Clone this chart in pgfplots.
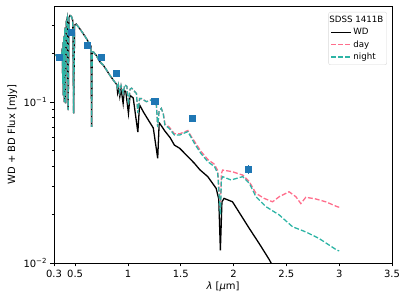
\documentclass[border=0pt]{standalone}
\usepackage{pgfplots}
\pgfplotsset{compat=1.18}
\usepackage{fontspec}
\setmainfont{DejaVu Sans}
\definecolor{dayc}{RGB}{255,110,140}
\definecolor{nightc}{RGB}{45,180,165}
\definecolor{ptc}{RGB}{31,119,180}

\begin{document}
\begin{tikzpicture}
\useasboundingbox (-54bp,-39bp) rectangle (353bp,263bp);
\begin{axis}[
 scale only axis, width=338bp, height=257bp,
 xmin=0.3, xmax=3.5, ymode=log, ymin=0.01, ymax=0.395,
 xtick={0.3,0.5,1,1.5,2,2.5,3,3.5},
 xticklabels={0.3,0.5,1,1.5,2,2.5,3,3.5},
 ytick={0.01,0.1}, yticklabels={10\textsuperscript{−2},10\textsuperscript{−1}},
 minor ytick={0.02,0.03,0.04,0.05,0.06,0.07,0.08,0.09,0.2,0.3},
 tick align=outside, tick pos=left,
 axis line style={line width=0.7bp},
 major tick length=3.5bp, minor tick length=2bp,
 every tick/.style={black, line width=0.7bp},
 minor tick style={line width=0.55bp},
 tick label style={font=\fontsize{10}{12}\selectfont},
 xticklabel style={yshift=-0.5bp},
 label style={font=\fontsize{11.3}{13}\selectfont},
 xlabel={\textit{λ} [\textit{μ}m]},
 ylabel={WD + BD Flux [mJy]},
 every axis x label/.style={at={(axis description cs:0.5,-0.0934)}, anchor=center},
 every axis y label/.style={at={(axis description cs:-0.123,0.5)}, rotate=90, anchor=center},
 legend cell align=left,
 legend image code/.code={\draw[#1] (0bp,0bp) -- (20bp,0bp);},
 legend style={at={(1,1)}, anchor=north east, xshift=-5bp, yshift=-6bp,
   draw=black!15, rounded corners=2bp, fill=white,
   font=\fontsize{8.7}{10}\selectfont, inner xsep=2bp, inner ysep=1.5bp, row sep=0bp,
   nodes={text height=7bp, text depth=2.2bp, inner xsep=1.5bp, inner ysep=1.6bp},
   /tikz/every even column/.append style={column sep=1bp}},
]
\addlegendimage{empty legend}
\addlegendentry{\hspace{-24bp}SDSS 1411B}

% WD model
\addplot[black, line width=1.3bp, mark=none] coordinates {
(0.31,0.196) (0.33,0.193) (0.35,0.191) (0.365,0.19) (0.372,0.195) (0.378,0.215)
(0.3835,0.13) (0.386,0.235) (0.3889,0.11) (0.392,0.255) (0.397,0.10) (0.401,0.27)
(0.405,0.29) (0.4102,0.098) (0.416,0.315) (0.426,0.335) (0.4341,0.089) (0.442,0.335)
(0.452,0.345) (0.465,0.34) (0.478,0.32) (0.4861,0.085) (0.495,0.30) (0.51,0.305)
(0.55,0.282) (0.60,0.252) (0.64,0.228) (0.65,0.222) (0.6563,0.070) (0.662,0.205)
(0.675,0.204) (0.70,0.195) (0.734,0.178) (0.765,0.170) (0.80,0.157) (0.828,0.147)
(0.875,0.133) (0.895,0.128) (0.9017,0.115) (0.91,0.124) (0.9229,0.108) (0.935,0.121)
(0.9546,0.098) (0.965,0.118) (0.98,0.116) (1.0049,0.085) (1.02,0.110) (1.05,0.106)
(1.0938,0.065) (1.11,0.096) (1.15,0.086) (1.20,0.076) (1.24,0.069) (1.2818,0.0447)
(1.295,0.072) (1.30,0.0738) (1.35,0.066) (1.40,0.060) (1.44,0.054) (1.49,0.0516)
(1.63,0.0416) (1.68,0.038) (1.756,0.0344) (1.835,0.0291) (1.86,0.025) (1.8751,0.012)
(1.89,0.024) (1.91,0.0252) (1.99,0.024) (2.149,0.0164) (2.243,0.0132) (2.338,0.0105)
(2.40,0.0088)
};
\addlegendentry{WD}

% day
\addplot[dayc, line width=1.3bp, mark=none, dash pattern=on 4.9bp off 2.1bp] coordinates {
(0.31,0.196) (0.33,0.193) (0.35,0.191) (0.365,0.19) (0.372,0.195) (0.378,0.215)
(0.3835,0.13) (0.386,0.235) (0.3889,0.11) (0.392,0.255) (0.397,0.10) (0.401,0.27)
(0.405,0.29) (0.4102,0.098) (0.416,0.315) (0.426,0.335) (0.4341,0.089) (0.442,0.335)
(0.452,0.345) (0.465,0.34) (0.478,0.32) (0.4861,0.085) (0.495,0.30) (0.51,0.305)
(0.55,0.282) (0.60,0.252) (0.64,0.228) (0.65,0.222) (0.6563,0.070) (0.662,0.205)
(0.675,0.204) (0.70,0.195) (0.734,0.178) (0.765,0.170) (0.80,0.157) (0.828,0.147)
(0.875,0.133) (0.895,0.130) (0.9017,0.12) (0.91,0.128) (0.9229,0.115) (0.935,0.127)
(0.9546,0.113) (0.97,0.128) (0.99,0.125) (1.0049,0.096) (1.02,0.12) (1.035,0.122)
(1.06,0.117) (1.08,0.113) (1.0938,0.0855) (1.11,0.105) (1.13,0.105) (1.175,0.1005)
(1.22,0.103) (1.255,0.1005) (1.27,0.095) (1.2818,0.070) (1.295,0.088) (1.316,0.0913)
(1.335,0.085) (1.35,0.073) (1.39,0.070) (1.44,0.0635) (1.49,0.0635) (1.53,0.065)
(1.567,0.0665) (1.60,0.061) (1.63,0.057) (1.69,0.0495) (1.756,0.044) (1.82,0.041)
(1.85,0.0375) (1.8751,0.022) (1.885,0.036) (1.897,0.0378) (1.99,0.0369) (2.055,0.0357)
(2.086,0.0352) (2.149,0.032) (2.212,0.0271) (2.29,0.0252) (2.369,0.024) (2.432,0.0258)
(2.526,0.0277) (2.59,0.0258) (2.637,0.0234) (2.684,0.0256) (2.778,0.025) (2.873,0.024)
(2.98,0.0224) (3.0,0.0222)
};
\addlegendentry{day}

% night
\addplot[nightc, line width=1.3bp, mark=none, dash pattern=on 4.9bp off 2.1bp] coordinates {
(0.31,0.196) (0.33,0.193) (0.35,0.191) (0.365,0.19) (0.372,0.195) (0.378,0.215)
(0.3835,0.13) (0.386,0.235) (0.3889,0.11) (0.392,0.255) (0.397,0.10) (0.401,0.27)
(0.405,0.29) (0.4102,0.098) (0.416,0.315) (0.426,0.335) (0.4341,0.089) (0.442,0.335)
(0.452,0.345) (0.465,0.34) (0.478,0.32) (0.4861,0.085) (0.495,0.30) (0.51,0.305)
(0.55,0.282) (0.60,0.252) (0.64,0.228) (0.65,0.222) (0.6563,0.070) (0.662,0.205)
(0.675,0.204) (0.70,0.195) (0.734,0.178) (0.765,0.170) (0.80,0.157) (0.828,0.147)
(0.875,0.133) (0.895,0.130) (0.9017,0.12) (0.91,0.128) (0.9229,0.115) (0.935,0.127)
(0.9546,0.113) (0.97,0.128) (0.99,0.125) (1.0049,0.096) (1.02,0.12) (1.035,0.122)
(1.06,0.117) (1.08,0.113) (1.0938,0.0855) (1.11,0.105) (1.13,0.105) (1.175,0.1005)
(1.22,0.103) (1.255,0.1005) (1.27,0.095) (1.2818,0.070) (1.295,0.088) (1.316,0.0913)
(1.335,0.084) (1.35,0.072) (1.39,0.0687) (1.44,0.0624) (1.49,0.0624) (1.53,0.064)
(1.567,0.0655) (1.60,0.060) (1.63,0.0553) (1.69,0.048) (1.756,0.0426) (1.82,0.0397)
(1.85,0.036) (1.8751,0.020) (1.885,0.033) (1.897,0.0344) (1.976,0.0328) (2.086,0.0344)
(2.149,0.0313) (2.212,0.0258) (2.306,0.0224) (2.432,0.0199) (2.558,0.0168) (2.684,0.0156)
(2.81,0.0142) (2.98,0.0120) (3.0,0.0119)
};
\addlegendentry{night}

% photometry
\addplot[ptc, only marks, mark=square*, mark size=3.1bp, forget plot,
  error bars/.cd, y dir=both, y explicit,
  error bar style={line width=1.2bp, ptc}, error mark=none] coordinates {
(0.35,0.19) +- (0,0)
(0.46,0.271) +- (0,0)
(0.618,0.226) +- (0,0)
(0.75,0.19) +- (0,0)
(0.891,0.151) +- (0,0)
(1.253,0.101) +- (0,0)
(1.608,0.0796) +- (0,0)
(2.14,0.0384) +- (0,0.0025)
};
\end{axis}
\end{tikzpicture}
\end{document}
